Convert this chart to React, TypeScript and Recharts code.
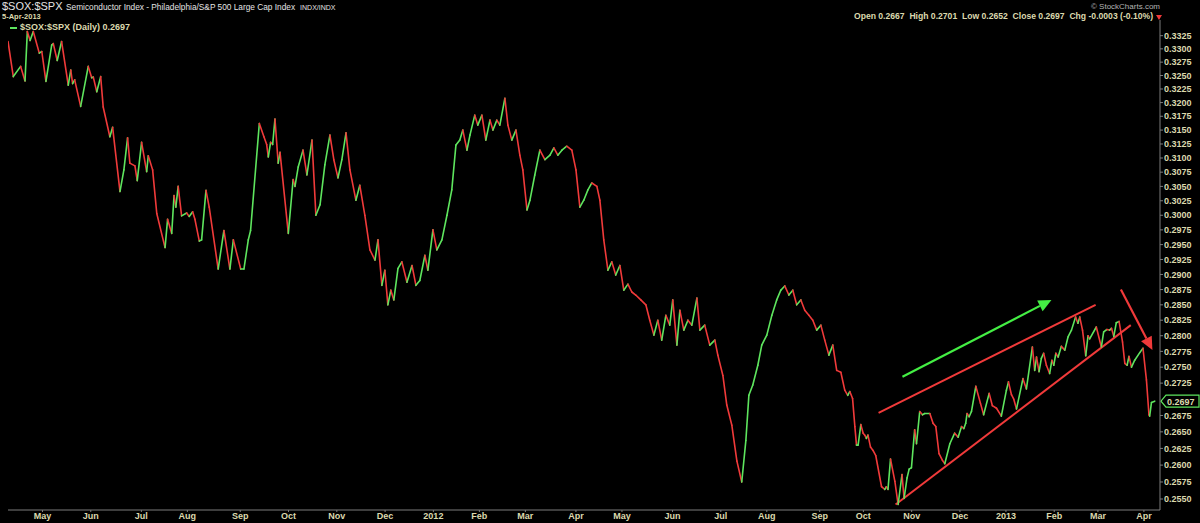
import React from "react";
import { LineChart, Line, XAxis, YAxis, ReferenceLine } from "recharts";

// trading-day index (0 = first bar on the chart) and closing ratio
const days = [
  0, 2.3, 5.5, 7.4, 8.4, 9.6, 11, 13.6, 14.7, 16.5, 19, 19.7, 21.4, 23.3, 26.2, 27.3, 28.1, 29, 31.6, 34.9,
  36.4, 37.1, 38.6, 40.3, 41.4, 44.3, 45.5, 48.7, 50.4, 52, 53, 55.2, 56.2, 58.1, 60.3, 61, 62.9, 64.7, 68.3, 69.4,
  71.2, 72.2, 73, 74, 75.5, 77.7, 78.8, 80.3, 81.3, 83.2, 84.2, 86.1, 87.5, 91.4, 93.9, 96.5, 98, 101.2, 102.6, 104.5,
  105.5, 109.3, 111.3, 112.5, 113.2, 114.2, 115.1, 116.1, 117.5, 118.3, 121.9, 124, 124.8, 126.2, 128.3, 130, 132.2, 133.9, 135.7, 137.8,
  140, 141.7, 143.5, 145.2, 147, 148.7, 151.3, 153, 155.2, 157.4, 159.6, 160.9, 162.6, 163.9, 165.2, 166.5, 167.8, 169.6, 171.3, 173.5,
  175.7, 177.4, 179.1, 181.3, 182.6, 184.8, 186.5, 188.7, 190.9, 193, 194.8, 196.5, 197.8, 199.6, 200.9, 203, 204.3, 206.1, 207.8, 209.6,
  210.9, 212.6, 213.9, 216.1, 217.4, 219.1, 220.9, 222.6, 223.9, 225.7, 227, 229.1, 231.3, 233.5, 235.7, 237.4, 239.1, 240.9, 243, 245.2,
  247, 248.7, 250.4, 252.2, 253.9, 256.1, 257.4, 259.1, 260.9, 262.6, 264.3, 266.1, 267.8, 269.6, 271.3, 273, 275.2, 277.4, 279.1, 280.9,
  282.6, 284.3, 286.1, 287.8, 289.1, 290.9, 292.2, 293.9, 295.7, 297.4, 299.6, 300.9, 303, 305.2, 307.4, 308.7, 310.9, 312.6, 314.8, 317,
  319.1, 320.9, 322.2, 323.9, 326.1, 327.8, 330, 332.2, 334.3, 336.1, 337.8, 339.6, 341.3, 343, 344.8, 346.5, 348.3, 350, 351.7, 353.5,
  355.2, 357, 358.7, 360.4, 362.2, 363.9, 365.2, 366.1, 367.3, 368.3, 369, 369.7, 370.9, 371.9, 372.6, 373.3, 374, 375.1, 376.2, 377.4,
  379.9, 381.3, 382, 382.7, 383.8, 385.7, 387.1, 388.8, 389.7, 391, 391.9, 392.9, 394.3, 395.1, 396.5, 397.7, 398.7, 400.9, 402.3, 403.5,
  404.9, 406.4, 407.4, 409.6, 411.7, 413.2, 414.7, 415.7, 416.5, 417.1, 418, 419, 420.9, 422.9, 424.3, 426.7, 428.1, 429.9, 432, 434.2,
  435.1, 436.4, 437.4, 438.6, 441.4, 442.9, 445.5, 446.5, 447.3, 448.4, 449.4, 450.4, 451.6, 453, 454, 454.8, 455.7, 456.7, 458.1, 459.6,
  461, 462.5, 464.3, 465.3, 466.1, 467.3, 468.7, 469.7, 470.4, 473.3, 475.5, 476.5, 477.9, 479.1, 479.9, 480.9, 482, 483.2, 484.7, 485.7,
  486.7, 487.5, 488.6, 490, 492.2, 493.6, 495.1, 496.2, 496.5, 497.3, 498.7,
];

const ratio = [
  0.3314, 0.3248, 0.3267, 0.324, 0.3333, 0.3316, 0.3333, 0.3292, 0.3295, 0.3239, 0.3307, 0.331, 0.3278, 0.3314, 0.3232, 0.326, 0.3235, 0.3242, 0.3193, 0.3267,
  0.3246, 0.3247, 0.322, 0.3248, 0.3192, 0.3138, 0.3155, 0.3041, 0.3079, 0.3136, 0.3091, 0.3086, 0.306, 0.3128, 0.3076, 0.3104, 0.3079, 0.3003, 0.2945, 0.2993,
  0.2969, 0.3034, 0.3014, 0.305, 0.2999, 0.3004, 0.2998, 0.3006, 0.2993, 0.2956, 0.2958, 0.3043, 0.3014, 0.2909, 0.2974, 0.2909, 0.2958, 0.2909, 0.2909, 0.2958,
  0.2974, 0.3162, 0.3138, 0.3124, 0.3102, 0.3128, 0.3124, 0.317, 0.3091, 0.311, 0.2969, 0.3062, 0.305, 0.3084, 0.3114, 0.307, 0.3132, 0.3, 0.3018, 0.3088,
  0.3141, 0.3097, 0.3065, 0.3097, 0.3145, 0.3079, 0.3026, 0.3052, 0.3, 0.2941, 0.2924, 0.2958, 0.2882, 0.2907, 0.285, 0.2874, 0.2858, 0.291, 0.2921, 0.2887,
  0.2915, 0.2882, 0.289, 0.2932, 0.2907, 0.2975, 0.2941, 0.2958, 0.3, 0.3044, 0.3123, 0.3132, 0.315, 0.3114, 0.3141, 0.3177, 0.3159, 0.3177, 0.3132, 0.3168,
  0.315, 0.3168, 0.3159, 0.3208, 0.3159, 0.3132, 0.315, 0.3105, 0.3079, 0.3009, 0.3026, 0.307, 0.3114, 0.3097, 0.3105, 0.3118, 0.3105, 0.3114, 0.3121, 0.3114,
  0.3079, 0.3014, 0.3026, 0.3044, 0.3056, 0.305, 0.3026, 0.2958, 0.2907, 0.2921, 0.2899, 0.2915, 0.2874, 0.2884, 0.2871, 0.2866, 0.2858, 0.285, 0.2825, 0.2801,
  0.2825, 0.2793, 0.2833, 0.2817, 0.2858, 0.2785, 0.2841, 0.2809, 0.2825, 0.2817, 0.2861, 0.2809, 0.2817, 0.2785, 0.2793, 0.2769, 0.2737, 0.2691, 0.266, 0.2606,
  0.2575, 0.2637, 0.2706, 0.2722, 0.2753, 0.2785, 0.2801, 0.2833, 0.2858, 0.2874, 0.2881, 0.2866, 0.2874, 0.285, 0.2858, 0.2841, 0.2833, 0.2825, 0.2809, 0.2817,
  0.2793, 0.2769, 0.2785, 0.2745, 0.2742, 0.2714, 0.2706, 0.2712, 0.2701, 0.2658, 0.263, 0.263, 0.2661, 0.2648, 0.2645, 0.264, 0.2645, 0.2627, 0.2622, 0.2614,
  0.2568, 0.2564, 0.2568, 0.2564, 0.2609, 0.2576, 0.2542, 0.2586, 0.2551, 0.2581, 0.2594, 0.2596, 0.2653, 0.2632, 0.2681, 0.2676, 0.2678, 0.2678, 0.2663, 0.2658,
  0.2617, 0.2607, 0.2602, 0.2632, 0.2648, 0.2642, 0.2658, 0.2655, 0.2663, 0.2678, 0.2673, 0.2681, 0.272, 0.2694, 0.2676, 0.2709, 0.269, 0.2686, 0.2674, 0.2714,
  0.2727, 0.2707, 0.27, 0.2685, 0.2732, 0.2716, 0.2782, 0.2745, 0.2766, 0.2743, 0.2764, 0.2772, 0.2753, 0.274, 0.2761, 0.2753, 0.2772, 0.2766, 0.2783, 0.2777,
  0.2798, 0.2809, 0.283, 0.282, 0.283, 0.2809, 0.2768, 0.28, 0.2795, 0.2814, 0.2782, 0.2806, 0.281, 0.2809, 0.2812, 0.2799, 0.2821, 0.2823, 0.279, 0.2756,
  0.2753, 0.2767, 0.275, 0.2761, 0.2773, 0.278, 0.273, 0.2676, 0.2674, 0.2695, 0.2697,
];

const monthTicks = [15, 36, 58, 78, 101, 122, 143, 164, 185, 205, 225, 247, 267, 289, 310, 330, 353, 372, 393, 414, 434, 455, 474, 494];
const monthLabels = [
  "May", "Jun", "Jul", "Aug", "Sep", "Oct", "Nov", "Dec", "2012", "Feb", "Mar", "Apr",
  "May", "Jun", "Jul", "Aug", "Sep", "Oct", "Nov", "Dec", "2013", "Feb", "Mar", "Apr",
];

// 0.2700 is covered by the last-close tag, so it is left out
const priceTicks = [
  0.255, 0.2575, 0.26, 0.2625, 0.265, 0.2675, 0.2725, 0.275, 0.2775, 0.28, 0.2825, 0.285, 0.2875, 0.29, 0.2925,
  0.295, 0.2975, 0.3, 0.3025, 0.305, 0.3075, 0.31, 0.3125, 0.315, 0.3175, 0.32, 0.3225, 0.325, 0.3275, 0.33, 0.3325,
];

// hand-drawn annotations: [day1, value1, day2, value2]
const greenArrow = [389, 0.2735, 453.8, 0.2858];
const upperTrend = [378.6, 0.2679, 473, 0.285];
const lowerTrend = [386, 0.2542, 488.3, 0.2817];
const redArrow = [484, 0.2875, 497.7, 0.2777];

const lastClose = 0.2697;

const GREEN = "#5ee55e";
const RED = "#f03a3a";
const CREAM = "#dcd9ae";
const FRAME = "#7d7d7d";
const FONT = "'Liberation Sans', Arial, sans-serif";

const chartData = days.map((d, i) => ({ day: d, v: ratio[i] }));

let lastPt: { x: number; y: number } | null = null;

const renderSegment = (props: any) => {
  const { cx, cy, index, points } = props;
  let prev: { x: number; y: number } | null = null;
  if (index > 0) {
    if (points && points[index - 1]) prev = { x: points[index - 1].x, y: points[index - 1].y };
    else prev = lastPt;
  }
  lastPt = { x: cx, y: cy };
  if (!prev) return <g key={`seg-${index}`} />;
  const up = ratio[index] >= ratio[index - 1];
  return (
    <line
      key={`seg-${index}`}
      x1={prev.x}
      y1={prev.y}
      x2={cx}
      y2={cy}
      stroke={up ? GREEN : RED}
      strokeWidth={1.6}
      strokeLinecap="round"
    />
  );
};

const arrowShape = (color: string) => (props: any) => {
  const { x1, y1, x2, y2 } = props;
  const dx = x2 - x1;
  const dy = y2 - y1;
  const len = Math.sqrt(dx * dx + dy * dy) || 1;
  const ux = dx / len;
  const uy = dy / len;
  const head = 13;
  const half = 6;
  const bx = x2 - ux * head;
  const by = y2 - uy * head;
  const pts = `${x2},${y2} ${bx - uy * half},${by + ux * half} ${bx + uy * half},${by - ux * half}`;
  return (
    <g>
      <line x1={x1} y1={y1} x2={bx} y2={by} stroke={color} strokeWidth={2.2} />
      <polygon points={pts} fill={color} />
    </g>
  );
};

const CloseTag = (props: any) => {
  const { viewBox } = props;
  const x = viewBox.x + viewBox.width + 1;
  const y = viewBox.y;
  return (
    <g>
      <polygon
        points={`${x},${y} ${x + 5},${y - 6} ${x + 38},${y - 6} ${x + 38},${y + 6} ${x + 5},${y + 6}`}
        fill="#000"
        stroke={GREEN}
        strokeWidth={1.2}
      />
      <text x={x + 6} y={y + 3.5} fill={CREAM} fontSize={9} fontWeight="bold" fontFamily={FONT}>
        {lastClose.toFixed(4)}
      </text>
    </g>
  );
};

const txt = (extra: React.CSSProperties): React.CSSProperties => ({
  position: "absolute",
  fontFamily: FONT,
  whiteSpace: "nowrap",
  lineHeight: 1,
  ...extra,
});

export default function App() {
  lastPt = null;
  return (
    <div style={{ position: "fixed", left: 0, top: 0, width: 1200, height: 523, background: "#000", overflow: "hidden" }}>
      <div style={txt({ left: 2, top: 1, fontSize: 11, color: "#e4e4e4" })}>$SOX:$SPX</div>
      <div style={txt({ left: 66, top: 3, fontSize: 8.3, color: "#e4e4e4" })}>
        Semiconductor Index - Philadelphia/S&amp;P 500 Large Cap Index
        <span style={{ fontSize: 7, marginLeft: 5 }}>INDX/INDX</span>
      </div>
      <div style={txt({ left: 2, top: 13, fontSize: 7.5, fontWeight: "bold", color: CREAM })}>5-Apr-2013</div>
      <div style={txt({ right: 40, top: 3, fontSize: 8, color: "#b4b4b4" })}>© StockCharts.com</div>
      <div style={txt({ right: 47, top: 12, fontSize: 8.6, fontWeight: "bold", color: CREAM })}>
        Open 0.2667 &nbsp;High 0.2701 &nbsp;Low 0.2652 &nbsp;Close 0.2697 &nbsp;Chg -0.0003 (-0.10%)
      </div>
      <div
        style={{
          position: "absolute",
          left: 1156,
          top: 15,
          width: 0,
          height: 0,
          borderLeft: "3.5px solid transparent",
          borderRight: "3.5px solid transparent",
          borderTop: `5px solid ${RED}`,
        }}
      />
      <div style={txt({ left: 10, top: 23, fontSize: 9, fontWeight: "bold", color: CREAM })}>
        <span style={{ display: "inline-block", width: 7, height: 2, background: GREEN, verticalAlign: "middle", marginRight: 3 }} />
        $SOX:$SPX (Daily) 0.2697
      </div>

      <div style={{ position: "absolute", left: 0, top: 0 }}>
        <LineChart width={1200} height={523} data={chartData} margin={{ top: 20, right: 0, bottom: 0, left: 8 }}>
          <XAxis
            dataKey="day"
            type="number"
            domain={[0, 501]}
            ticks={monthTicks}
            interval={0}
            tickFormatter={(d: number) => monthLabels[monthTicks.indexOf(d)] ?? ""}
            height={13}
            tickSize={2}
            tickMargin={1}
            axisLine={{ stroke: FRAME }}
            tickLine={{ stroke: FRAME }}
            tick={{ fill: CREAM, fontSize: 9, fontWeight: "bold", fontFamily: FONT }}
            allowDataOverflow
          />
          <XAxis
            xAxisId="top"
            orientation="top"
            type="number"
            domain={[0, 1]}
            height={0}
            tick={false}
            tickLine={false}
            axisLine={{ stroke: FRAME }}
          />
          <YAxis
            orientation="right"
            type="number"
            scale="log"
            domain={[0.2534, 0.3355]}
            ticks={priceTicks}
            interval={0}
            allowDataOverflow
            width={40}
            tickSize={3}
            tickMargin={1}
            tickFormatter={(v: number) => v.toFixed(4)}
            axisLine={{ stroke: FRAME }}
            tickLine={{ stroke: FRAME }}
            tick={{ fill: CREAM, fontSize: 9, fontWeight: "bold", fontFamily: FONT }}
          />
          <YAxis
            yAxisId="left"
            orientation="left"
            type="number"
            domain={[0, 1]}
            width={0}
            tick={false}
            tickLine={false}
            axisLine={{ stroke: FRAME }}
          />
          <ReferenceLine
            segment={[{ x: upperTrend[0], y: upperTrend[1] }, { x: upperTrend[2], y: upperTrend[3] }]}
            stroke={RED}
            strokeWidth={2}
          />
          <ReferenceLine
            segment={[{ x: lowerTrend[0], y: lowerTrend[1] }, { x: lowerTrend[2], y: lowerTrend[3] }]}
            stroke={RED}
            strokeWidth={2}
          />
          <ReferenceLine
            segment={[{ x: greenArrow[0], y: greenArrow[1] }, { x: greenArrow[2], y: greenArrow[3] }]}
            shape={arrowShape("#44ee44")}
          />
          <ReferenceLine
            segment={[{ x: redArrow[0], y: redArrow[1] }, { x: redArrow[2], y: redArrow[3] }]}
            shape={arrowShape(RED)}
          />
          <ReferenceLine y={lastClose} stroke="none" ifOverflow="visible" label={<CloseTag />} />
          <Line
            dataKey="v"
            type="linear"
            stroke="none"
            dot={renderSegment}
            activeDot={false}
            isAnimationActive={false}
          />
        </LineChart>
      </div>
    </div>
  );
}
